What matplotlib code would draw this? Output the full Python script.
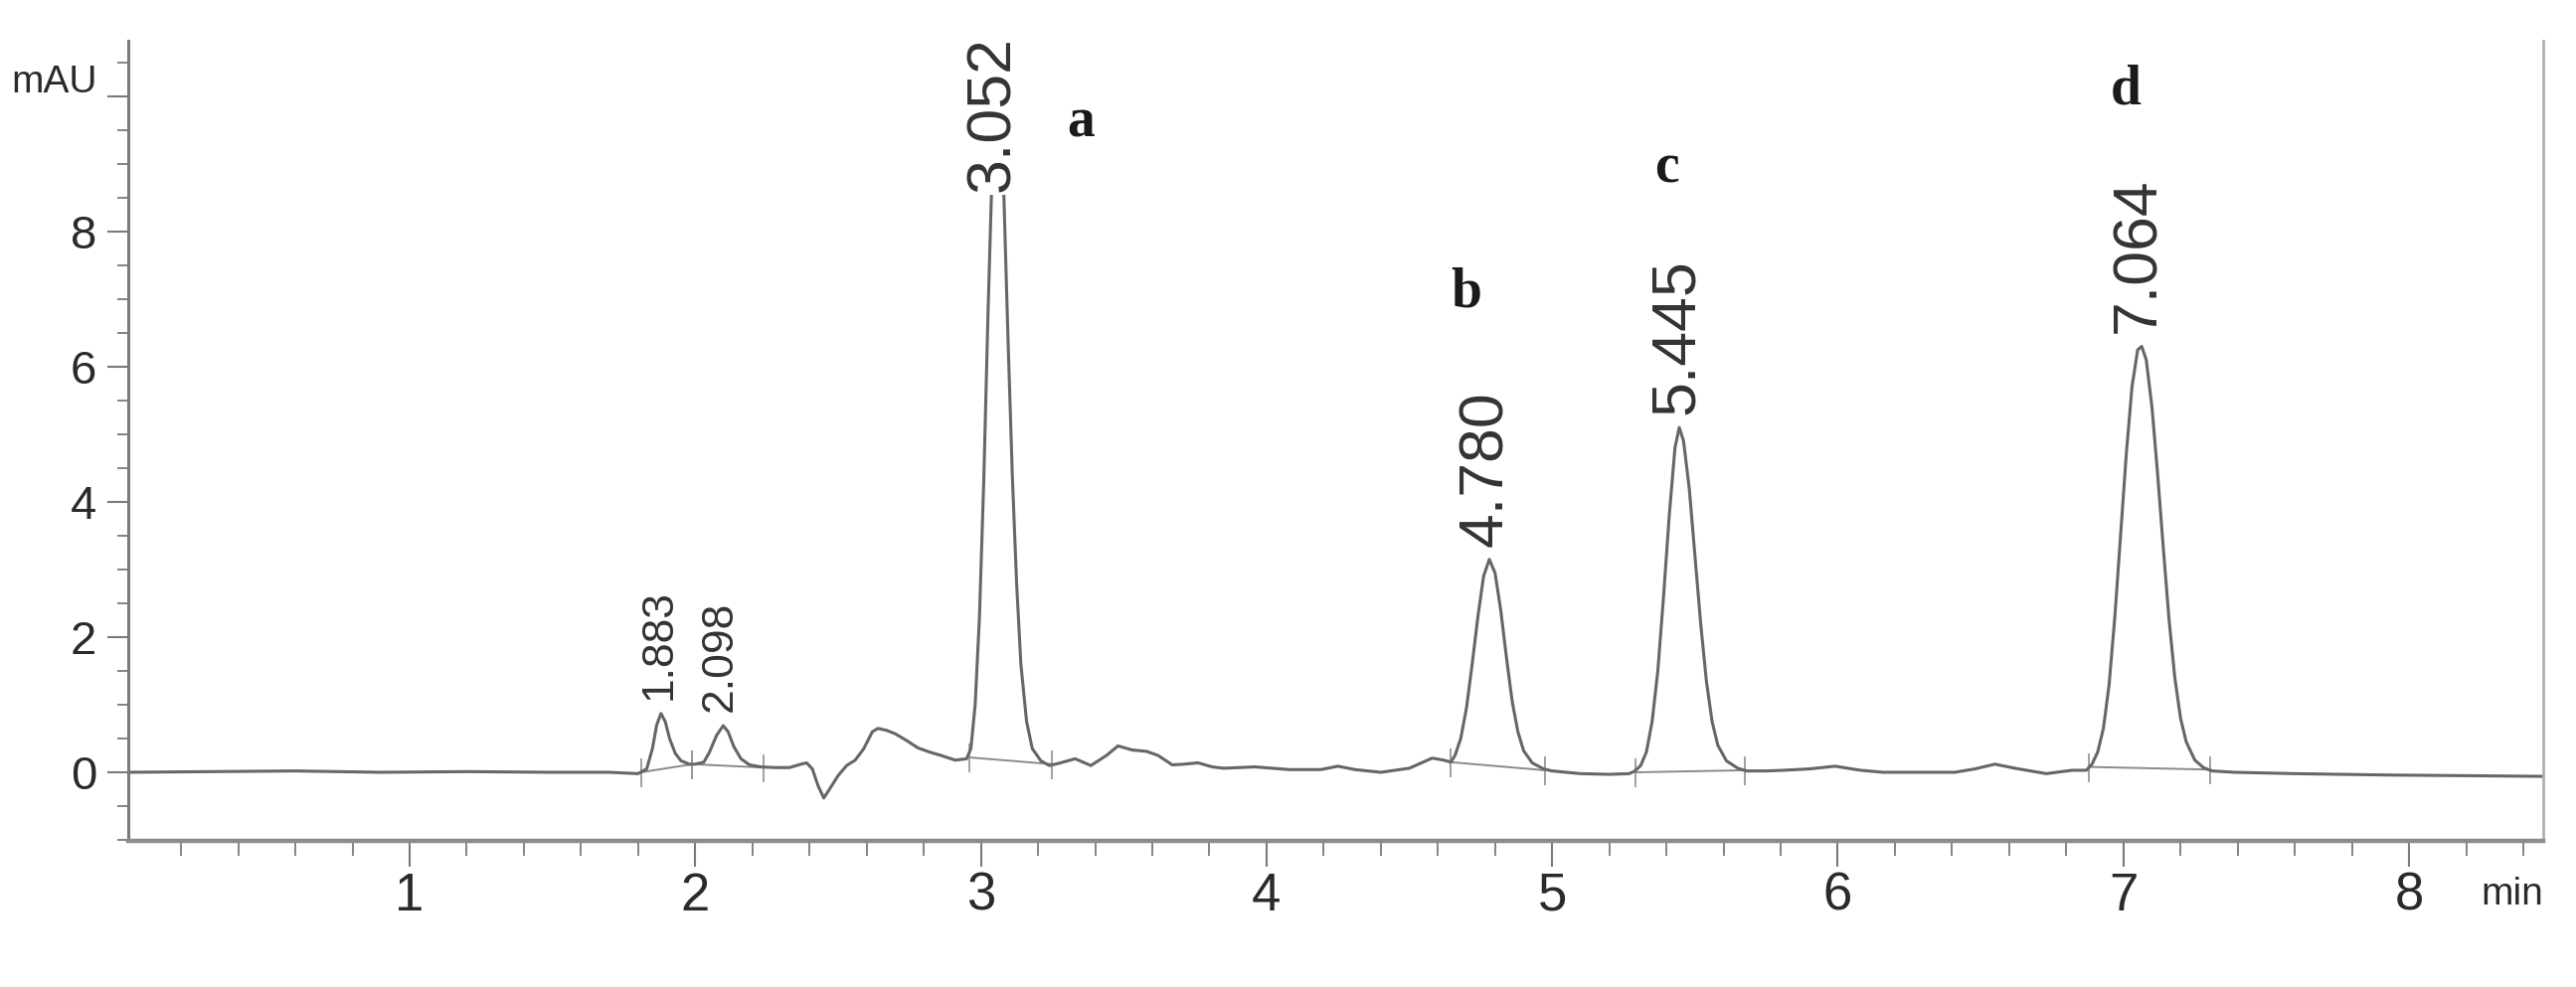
import matplotlib
matplotlib.use("Agg")
import matplotlib.pyplot as plt
from matplotlib.ticker import MultipleLocator, FixedLocator

# ---- chromatogram trace (min, mAU) ----
time_min = [
    0.015, 0.3, 0.6, 0.9, 1.2, 1.5, 1.7, 1.8, 1.83, 1.85, 1.865, 1.88, 1.895, 1.91,
    1.93, 1.95, 1.98, 2.0, 2.03, 2.05, 2.075, 2.098, 2.115, 2.135, 2.16, 2.19, 2.23,
    2.28, 2.33, 2.37, 2.39, 2.41, 2.43, 2.45, 2.47, 2.5, 2.53, 2.56, 2.59, 2.62, 2.64,
    2.67, 2.70, 2.74, 2.78, 2.82, 2.86, 2.91, 2.95,
    # peak a
    2.965, 2.98, 2.995, 3.01, 3.025, 3.04, 3.052, 3.065, 3.08, 3.095, 3.11, 3.125,
    3.14, 3.16, 3.18, 3.21, 3.24,
    3.27, 3.33, 3.385, 3.44, 3.48, 3.53, 3.58, 3.62, 3.67, 3.71, 3.76, 3.81, 3.85,
    3.96, 4.08, 4.19, 4.25, 4.31, 4.40, 4.50, 4.58, 4.62,
    # peak b
    4.645, 4.66, 4.68, 4.70, 4.72, 4.74, 4.76, 4.78, 4.80, 4.82, 4.84, 4.86, 4.88,
    4.90, 4.93, 4.97, 5.0,
    5.1, 5.2, 5.27,
    # peak c
    5.29, 5.31, 5.33, 5.35, 5.37, 5.39, 5.41, 5.43, 5.445, 5.46, 5.48, 5.50, 5.52,
    5.54, 5.56, 5.58, 5.61, 5.65, 5.68,
    5.75, 5.81, 5.9, 5.99, 6.08, 6.16, 6.3, 6.41, 6.48, 6.55, 6.62, 6.73, 6.82,
    # peak d
    6.87, 6.89, 6.91, 6.93, 6.95, 6.97, 6.99, 7.01, 7.03, 7.05, 7.064, 7.08, 7.10,
    7.12, 7.14, 7.16, 7.18, 7.20, 7.22, 7.25, 7.28, 7.31,
    7.39, 7.6, 7.92, 8.2, 8.47,
]
signal_mau = [
    0.0, 0.01, 0.02, 0.0, 0.01, 0.0, 0.0, -0.02, 0.05, 0.35, 0.7, 0.87, 0.75, 0.5,
    0.28, 0.17, 0.12, 0.12, 0.15, 0.3, 0.55, 0.69, 0.6, 0.38, 0.2, 0.11, 0.08,
    0.07, 0.07, 0.12, 0.14, 0.05, -0.2, -0.38, -0.25, -0.05, 0.1, 0.18, 0.35, 0.6, 0.65,
    0.62, 0.57, 0.47, 0.36, 0.3, 0.25, 0.18, 0.2,
    0.35, 1.0, 2.3, 4.3, 6.8, 9.0, 10.3, 10.2, 8.6, 6.4, 4.4, 2.8,
    1.6, 0.75, 0.35, 0.17, 0.1,
    0.13, 0.2, 0.1, 0.25, 0.39, 0.33, 0.31, 0.25, 0.11, 0.12, 0.14, 0.08, 0.06,
    0.08, 0.04, 0.04, 0.09, 0.04, 0.0, 0.06, 0.21, 0.18,
    0.15, 0.25, 0.5, 0.95, 1.6, 2.3, 2.9, 3.15, 2.95, 2.4, 1.7, 1.05, 0.6,
    0.32, 0.14, 0.05, 0.02,
    -0.02, -0.03, -0.02,
    0.02, 0.1, 0.3, 0.75, 1.5, 2.6, 3.8, 4.8, 5.1, 4.9, 4.2, 3.2, 2.2,
    1.35, 0.75, 0.4, 0.17, 0.06, 0.02,
    0.02, 0.03, 0.05, 0.09, 0.03, 0.0, 0.0, 0.0, 0.05, 0.12, 0.06, -0.02, 0.03,
    0.03, 0.12, 0.3, 0.65, 1.3, 2.3, 3.5, 4.7, 5.7, 6.25, 6.3, 6.1, 5.4,
    4.4, 3.3, 2.25, 1.4, 0.8, 0.45, 0.18, 0.07, 0.02,
    0.0, -0.02, -0.04, -0.05, -0.06,
]

# labelled peaks
peak_rt = [1.883, 2.098, 3.052, 4.780, 5.445, 7.064]
peak_top = [0.87, 0.69, 10.3, 3.15, 5.1, 6.3]
peak_text = ["1.883", "2.098", "3.052", "4.780", "5.445", "7.064"]

# integration events (start / end of each peak and baseline level there)
integ_start = [1.81, 1.99, 2.96, 4.645, 5.293, 6.878]
integ_start_y = [0.0, 0.12, 0.22, 0.15, 0.0, 0.08]
integ_end = [1.99, 2.24, 3.25, 4.975, 5.675, 7.305]
integ_end_y = [0.12, 0.07, 0.12, 0.03, 0.03, 0.04]

# compound letters
comp_letter = ["a", "b", "c", "d"]
comp_x = [3.35, 4.70, 5.40, 7.01]
comp_y = [9.6, 7.1, 8.93, 10.09]

x_ticks = [1, 2, 3, 4, 5, 6, 7, 8]
y_ticks = [0, 2, 4, 6, 8, 10]
y_ticklabels = ["0", "2", "4", "6", "8", ""]

#===================================================================#
SANS = ["Liberation Sans", "DejaVu Sans"]
AX_COL = "#7a7a7a"
TXT_COL = "#2a2a2a"

fig = plt.figure(figsize=(25.91, 9.93), dpi=100)
ax = fig.add_axes([0.0498, 0.148, 0.9375, 0.8107])

ax.plot(time_min, signal_mau, color="#666666", lw=2.2, zorder=2, solid_joinstyle="round")

# integration baselines + tick marks
for s, sy, e, ey in zip(integ_start, integ_start_y, integ_end, integ_end_y):
    ax.plot([s, e], [sy, ey], color="#8a8a8a", lw=1.4, zorder=1)
    ax.vlines([s, e], [sy - 0.22, ey - 0.22], [sy + 0.2, ey + 0.2], color="#999999", lw=1.3, zorder=1)

# retention time labels
for rt, top, txt in zip(peak_rt, peak_top, peak_text):
    small = top < 1
    ax.annotate(txt, xy=(rt, min(top, 8.4)), xytext=(-3, 14 if small else 13),
                textcoords="offset pixels", rotation=90, ha="center", va="bottom",
                fontsize=32 if small else 45, family=SANS, color="#333333",
                bbox=dict(boxstyle="square,pad=0.05", fc="white", ec="none"),
                annotation_clip=False, zorder=4)

for lt, lx, ly in zip(comp_letter, comp_x, comp_y):
    ax.text(lx, ly, lt, family=["Liberation Serif", "DejaVu Serif"], fontsize=40,
            fontweight="bold", color="#1a1a1a", ha="center", va="center")

ax.set_xlim(0.015, 8.47)
ax.set_ylim(-1.015, 10.82)

ax.xaxis.set_major_locator(FixedLocator(x_ticks))
ax.xaxis.set_minor_locator(MultipleLocator(0.2))
ax.yaxis.set_major_locator(FixedLocator(y_ticks))
ax.yaxis.set_minor_locator(MultipleLocator(0.5))
ax.set_yticklabels(y_ticklabels)

ax.tick_params(axis="x", which="major", length=19, width=1.5, color=AX_COL, pad=3,
               labelsize=38, labelcolor=TXT_COL)
ax.tick_params(axis="x", which="minor", length=11, width=1.3, color=AX_COL)
ax.tick_params(axis="y", which="major", length=15, width=1.5, color=AX_COL, pad=8,
               labelsize=34, labelcolor=TXT_COL)
ax.tick_params(axis="y", which="minor", length=8, width=1.3, color=AX_COL)
for lab in ax.get_xticklabels() + ax.get_yticklabels():
    lab.set_family(SANS)

ax.spines["top"].set_visible(False)
ax.spines["left"].set_color(AX_COL)
ax.spines["left"].set_linewidth(2.2)
ax.spines["bottom"].set_color("#8c8c8c")
ax.spines["bottom"].set_linewidth(3.2)
ax.spines["right"].set_color("#b0b0b0")
ax.spines["right"].set_linewidth(2)

# unit labels
ax.annotate("mAU", xy=(0, 10), xycoords=("axes fraction", "data"), xytext=(-31, -4),
            textcoords="offset pixels", ha="right", va="bottom", fontsize=28,
            family=SANS, color=TXT_COL, annotation_clip=False)
ax.annotate("min", xy=(1, 0), xycoords="axes fraction", xytext=(0, -36),
            textcoords="offset pixels", ha="right", va="top", fontsize=28,
            family=SANS, color=TXT_COL, annotation_clip=False)

fig.savefig("out.png", dpi=100, facecolor="white")
